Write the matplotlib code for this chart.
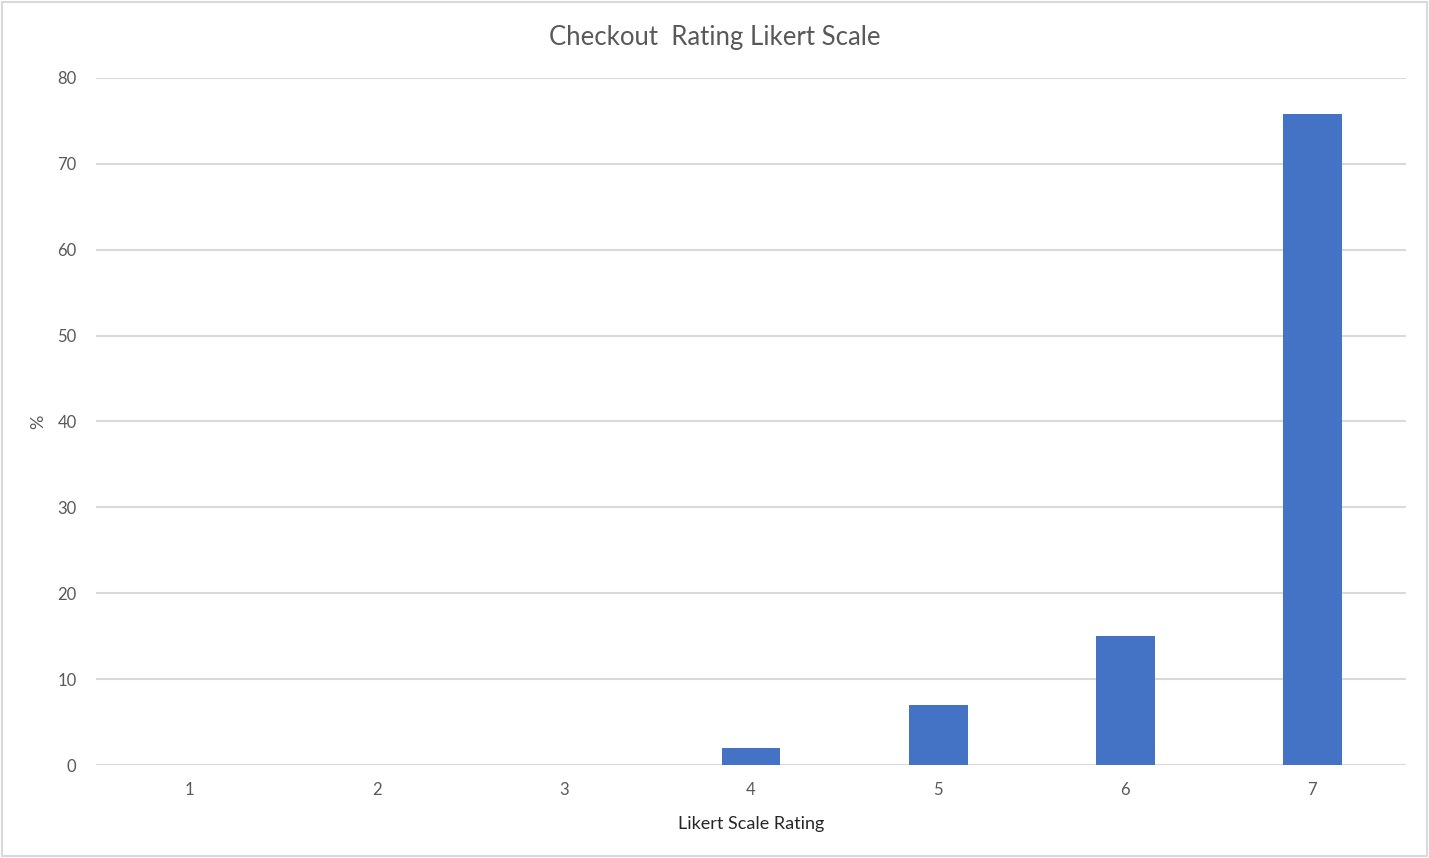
import matplotlib.pyplot as plt
import numpy as np

plt.rcParams['font.family'] = ['Lato', 'DejaVu Sans']

ratings = ['1', '2', '3', '4', '5', '6', '7']
percent = [0, 0, 0, 2, 7, 15, 75.8]

bar_color = '#4472C4'
text_color = '#595959'
grid_color = '#D9D9D9'

fig = plt.figure(figsize=(14.29, 8.58), dpi=100)
ax = fig.add_axes([96 / 1429, 1 - 765 / 858, 1310 / 1429, 687 / 858])

x = np.arange(len(ratings))
ax.bar(x, percent, width=0.315, color=bar_color, zorder=3)

ax.set_xlim(-0.5, len(ratings) - 0.5)
ax.set_ylim(0, 80)
ax.set_yticks(range(0, 81, 10))
ax.set_xticks(x)
ax.set_xticklabels(ratings)

ax.grid(axis='y', color=grid_color, linewidth=1.5, zorder=0)
ax.set_axisbelow(True)
for s in ax.spines.values():
    s.set_visible(False)
ax.tick_params(length=0, labelsize=12, colors=text_color, pad=14)
ax.tick_params(axis='x', pad=12)

ax.set_ylabel('%', fontsize=13, color=text_color, labelpad=8)
ax.set_xlabel('Likert Scale Rating', fontsize=13, color='#262626', labelpad=13)
fig.text(0.5, 1 - 38 / 858, 'Checkout  Rating Likert Scale', ha='center', va='center',
         fontsize=18.5, color=text_color)

# light frame round the whole chart
fig.patches.append(plt.Rectangle((0.0015, 0.002), 0.997, 0.996, transform=fig.transFigure,
                                 fill=False, edgecolor='#D9D9D9', linewidth=1.5))

fig.savefig('out.png', dpi=100)
